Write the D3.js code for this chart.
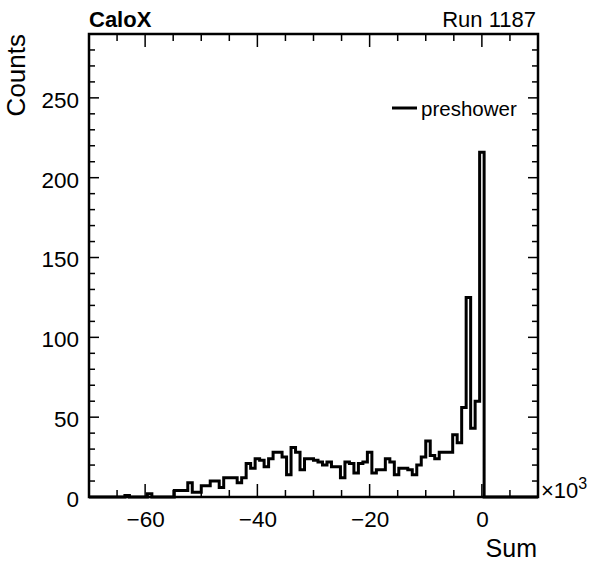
<!DOCTYPE html>
<html>
<head>
<meta charset="utf-8">
<script src="https://cdn.jsdelivr.net/npm/d3@7"></script>
<style>
  body { margin: 0; background: #fff; }
  svg { display: block; }
  text { font-family: "Liberation Sans", Arial, sans-serif; fill: #000; }
</style>
</head>
<body>
<div id="vis"></div>
<script>
const FRAME_WIDTH = 596;
const FRAME_HEIGHT = 572;
const MARGINS = { left: 89, right: 58, top: 34, bottom: 75 };
const VIS_WIDTH = FRAME_WIDTH - MARGINS.left - MARGINS.right;
const VIS_HEIGHT = FRAME_HEIGHT - MARGINS.top - MARGINS.bottom;

// histogram: 100 bins from -70 to 10 (x10^3)
const X_RANGE = [-70, 10];
const Y_RANGE = [0, 290];
const binCounts = [
  0, 0, 0, 0, 0, 0, 0, 0, 1, 0,
  0, 0, 0, 2, 0, 0, 0, 0, 0, 4,
  4, 4, 9, 3, 3, 7, 7, 10, 10, 6,
  12, 12, 12, 9, 12, 21, 18, 24, 23, 19,
  24, 28, 28, 25, 14, 31, 28, 17, 24, 24,
  23, 22, 20, 22, 19, 19, 12, 22, 21, 15,
  21, 22, 28, 15, 17, 17, 24, 22, 14, 18,
  18, 17, 14, 20, 25, 35, 26, 24, 28, 28,
  28, 39, 34, 56, 125, 43, 60, 216, 0, 0,
  0, 0, 0, 0, 0, 0, 0, 0, 0, 0
];
const xTicks = [-60, -40, -20, 0];
const yTicks = [0, 50, 100, 150, 200, 250];
const seriesName = "preshower";

const svg = d3.select('#vis')
  .append('svg')
  .attr('width', FRAME_WIDTH)
  .attr('height', FRAME_HEIGHT);

const X_SCALE = d3.scaleLinear().domain(X_RANGE).range([0, VIS_WIDTH]);
const Y_SCALE = d3.scaleLinear().domain(Y_RANGE).range([VIS_HEIGHT, 0]);

const g = svg.append('g')
  .attr('transform', `translate(${MARGINS.left}, ${MARGINS.top})`);

// histogram outline
const nBins = binCounts.length;
const binW = (X_RANGE[1] - X_RANGE[0]) / nBins;
const pts = [[X_RANGE[0], 0]];
binCounts.forEach((v, i) => pts.push([X_RANGE[0] + i * binW, v]));
pts.push([X_RANGE[1], binCounts[nBins - 1]]);

const line = d3.line()
  .x(d => X_SCALE(d[0]))
  .y(d => Y_SCALE(d[1]))
  .curve(d3.curveStepAfter);

g.append('path')
  .datum(pts)
  .attr('d', line)
  .attr('fill', 'none')
  .attr('stroke', '#000')
  .attr('stroke-width', 3)
  .attr('stroke-linejoin', 'miter');

// ticks on all four sides (ROOT style)
const xMinor = d3.range(-70, 10.001, 5);
const yMinor = d3.range(0, 290, 10);

function tickLen(v, majors, big, small) {
  return majors.includes(v) ? big : small;
}

const tickG = g.append('g').attr('stroke', '#000').attr('stroke-width', 1.5);
xMinor.forEach(v => {
  const x = X_SCALE(v);
  const len = tickLen(v, xTicks, 13, 7);
  tickG.append('line').attr('x1', x).attr('x2', x).attr('y1', VIS_HEIGHT).attr('y2', VIS_HEIGHT - len);
  tickG.append('line').attr('x1', x).attr('x2', x).attr('y1', 0).attr('y2', len);
});
yMinor.forEach(v => {
  const y = Y_SCALE(v);
  const len = tickLen(v, yTicks, 10, 6);
  tickG.append('line').attr('x1', 0).attr('x2', len).attr('y1', y).attr('y2', y);
  tickG.append('line').attr('x1', VIS_WIDTH).attr('x2', VIS_WIDTH - len).attr('y1', y).attr('y2', y);
});

// tick labels through d3 axes
const xAxis = g.append('g')
  .attr('transform', `translate(0, ${VIS_HEIGHT})`)
  .call(d3.axisBottom(X_SCALE).tickValues(xTicks).tickSize(0).tickPadding(14)
    .tickFormat(d => d < 0 ? '\u2212' + Math.abs(d) : d));
xAxis.select('.domain').remove();
xAxis.selectAll('text').attr('font-size', 22.5).attr('font-family', '"Liberation Sans", Arial, sans-serif');

const yAxis = g.append('g')
  .call(d3.axisLeft(Y_SCALE).tickValues(yTicks).tickSize(0).tickPadding(10));
yAxis.select('.domain').remove();
yAxis.selectAll('text').attr('font-size', 22.5).attr('dy', '0.42em')
  .attr('font-family', '"Liberation Sans", Arial, sans-serif');

// frame
g.append('rect')
  .attr('x', 0).attr('y', 0)
  .attr('width', VIS_WIDTH).attr('height', VIS_HEIGHT)
  .attr('fill', 'none')
  .attr('stroke', '#000')
  .attr('stroke-width', 2.5);

// exponent label
const expT = svg.append('text')
  .attr('x', MARGINS.left + VIS_WIDTH + 3)
  .attr('y', MARGINS.top + VIS_HEIGHT + 1)
  .attr('font-size', 22);
expT.append('tspan').text('\u00d710');
expT.append('tspan').attr('dy', -9).attr('font-size', 16).text('3');

// axis titles
svg.append('text')
  .attr('x', MARGINS.left + VIS_WIDTH - 1)
  .attr('y', 557)
  .attr('text-anchor', 'end')
  .attr('font-size', 25)
  .text('Sum');

svg.append('text')
  .attr('transform', `translate(25, ${MARGINS.top}) rotate(-90)`)
  .attr('text-anchor', 'end')
  .attr('font-size', 26)
  .text('Counts');

// header texts
svg.append('text')
  .attr('x', MARGINS.left)
  .attr('y', 27)
  .attr('font-size', 22)
  .attr('font-weight', 'bold')
  .text('CaloX');

svg.append('text')
  .attr('x', MARGINS.left + VIS_WIDTH - 2)
  .attr('y', 27)
  .attr('text-anchor', 'end')
  .attr('font-size', 22)
  .text('Run 1187');

// legend
svg.append('line')
  .attr('x1', 392).attr('x2', 417)
  .attr('y1', 108).attr('y2', 108)
  .attr('stroke', '#000').attr('stroke-width', 3);
svg.append('text')
  .attr('x', 421)
  .attr('y', 115.5)
  .attr('font-size', 20.5)
  .text(seriesName);
</script>
</body>
</html>
